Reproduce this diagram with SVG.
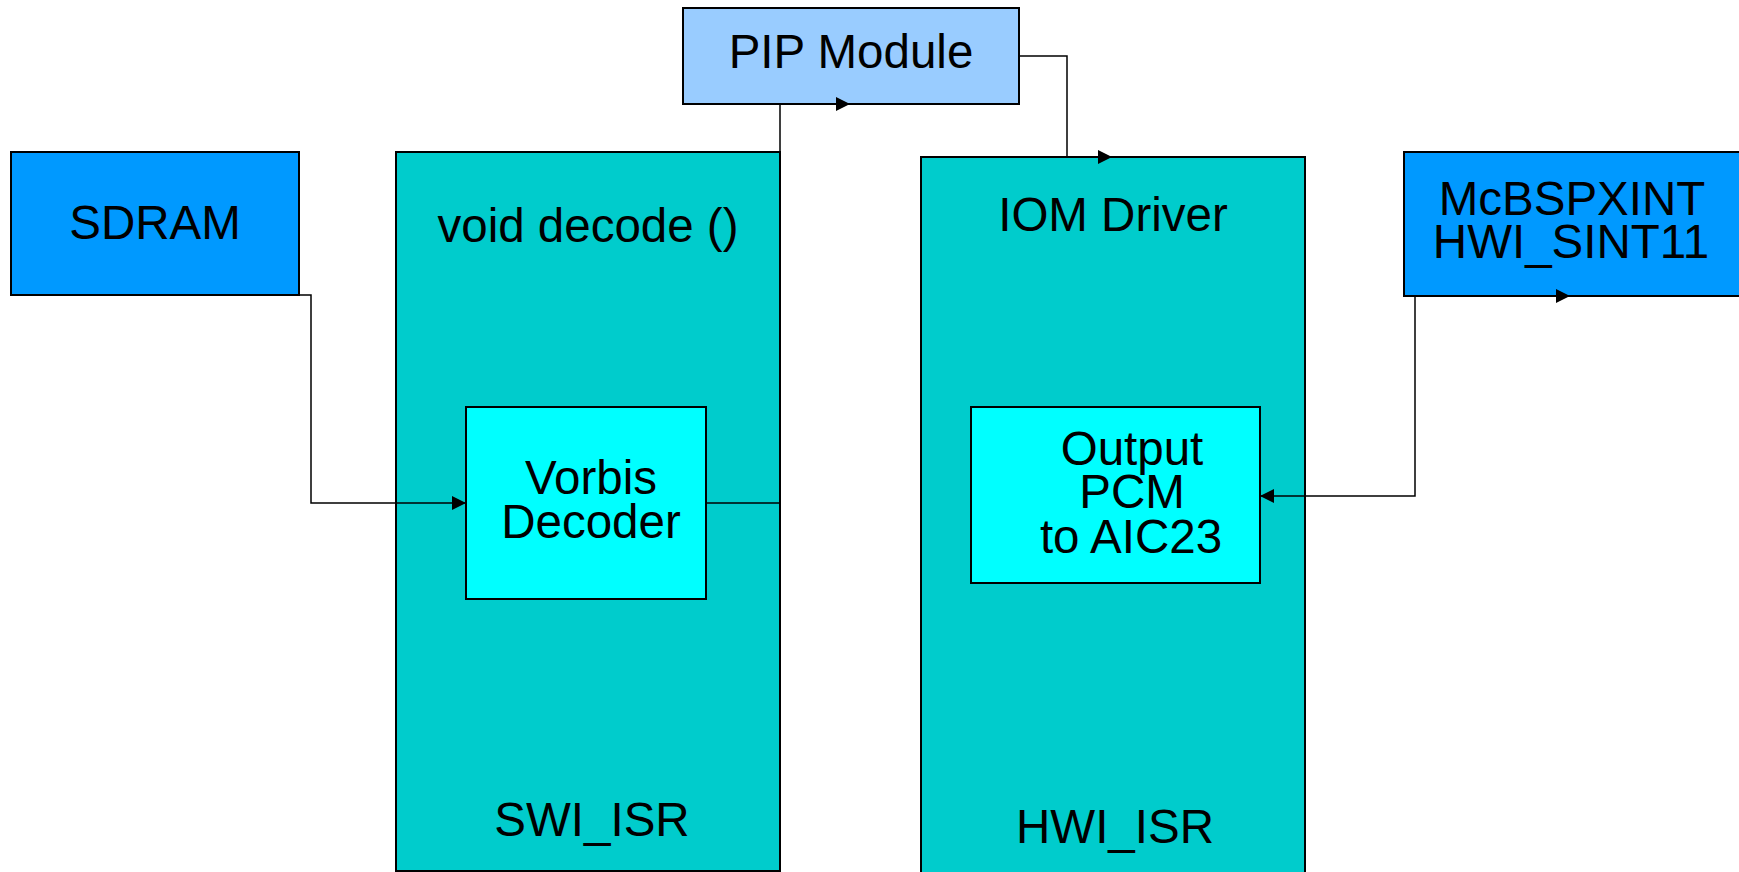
<svg xmlns="http://www.w3.org/2000/svg" width="1739" height="872" viewBox="0 0 1739 872">
<style>
.box{stroke:#000;stroke-width:2}
.t{font-family:"Liberation Sans",Arial,sans-serif;font-size:47.5px;fill:#000;text-anchor:middle}
.c{fill:none;stroke:#000;stroke-width:1.5}
</style>
<defs>
<marker id="ah" markerUnits="userSpaceOnUse" markerWidth="15" markerHeight="15" refX="14" refY="7" orient="auto-start-reverse">
<path d="M0,0 L14,7 L0,14 z" fill="#000"/>
</marker>
</defs>
<rect width="1739" height="872" fill="#fff"/>
<g id="sdram">
<rect class="box" x="11" y="152" width="288" height="143" fill="#0099ff"/>
<text class="t" x="155" y="239">SDRAM</text>
</g>
<g id="swi">
<rect class="box" x="396" y="152" width="384" height="719" fill="#00cccc"/>
<text class="t" x="588" y="242">void decode ()</text>
<text class="t" x="592" y="836">SWI_ISR</text>
</g>
<g id="vorbis">
<rect class="box" x="466" y="407" width="240" height="192" fill="#00ffff"/>
<text class="t" x="591" y="494">Vorbis</text>
<text class="t" x="591" y="538">Decoder</text>
</g>
<g id="pip">
<rect class="box" x="683" y="8" width="336" height="96" fill="#99ccff"/>
<text class="t" x="851" y="68">PIP Module</text>
</g>
<g id="hwi">
<rect class="box" x="921" y="157" width="384" height="716" fill="#00cccc"/>
<text class="t" x="1113" y="231">IOM Driver</text>
<text class="t" x="1115" y="843">HWI_ISR</text>
</g>
<g id="output">
<rect class="box" x="971" y="407" width="289" height="176" fill="#00ffff"/>
<text class="t" x="1132" y="465">Output</text>
<text class="t" x="1132" y="508">PCM</text>
<text class="t" x="1131" y="553">to AIC23</text>
</g>
<g id="mcbsp">
<rect class="box" x="1404" y="152" width="340" height="144" fill="#0099ff"/>
<text class="t" x="1572" y="215">McBSPXINT</text>
<text class="t" x="1571" y="258">HWI_SINT11</text>
</g>
<g id="connectors">
<path class="c" d="M299,295 H311 V503 H466" marker-end="url(#ah)"/>
<path class="c" d="M706,503 H780 V104 H850" marker-end="url(#ah)"/>
<path class="c" d="M1019,56 H1067 V157 H1112" marker-end="url(#ah)"/>
<path class="c" d="M1260,496 H1415 V296 H1570" marker-start="url(#ah)" marker-end="url(#ah)"/>
</g>
</svg>
